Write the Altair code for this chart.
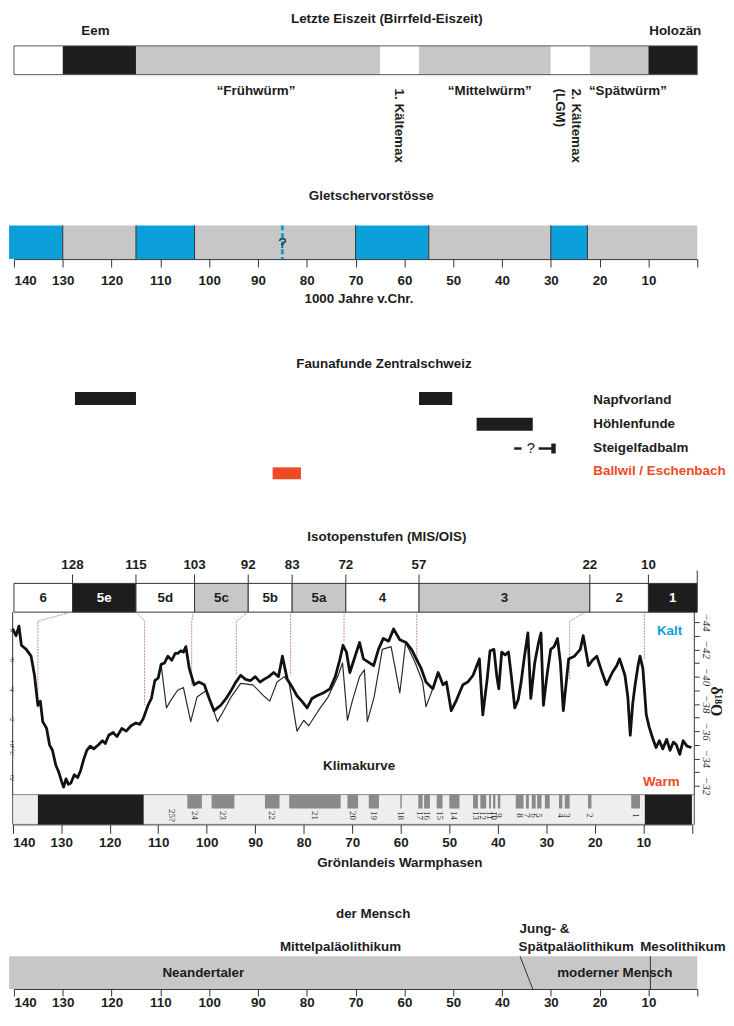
import altair as alt
import pandas as pd

# ---------------- Letzte Eiszeit (Birrfeld-Eiszeit) ----------------
eis_from = [140, 130, 115, 65, 57, 30, 22, 10]
eis_to = [130, 115, 65, 57, 30, 22, 10, 0]
eis_tone = ["hell", "dunkel", "grau", "hell", "grau", "hell", "grau", "dunkel"]
eis_top_names = ["Eem", "Holozän"]
eis_top_ka = [123.3, 4.5]
eis_phase_names = ["“Frühwürm”", "“Mittelwürm”", "“Spätwürm”"]
eis_phase_ka = [90.4, 42.5, 14.2]
kaelte_names = ["1. Kältemax", "2. Kältemax", "(LGM)"]
kaelte_ka = [61.2, 24.8, 28.2]

# ---------------- Gletschervorstösse ----------------
glet_from = [141, 130, 115, 103, 70, 55, 30, 22.5]
glet_to = [130, 115, 103, 70, 55, 30, 22.5, 0]
glet_advance = [True, False, True, False, True, False, True, False]
glet_unsure_ka = [85]

# ---------------- Faunafunde Zentralschweiz ----------------
fauna_sites = ["Napfvorland", "Höhlenfunde", "Steigelfadbalm", "Ballwil / Eschenbach"]
fauna_bar_site = ["Napfvorland", "Napfvorland", "Höhlenfunde", "Ballwil / Eschenbach"]
fauna_bar_from = [127.5, 57, 45.2, 87]
fauna_bar_to = [115, 50.2, 33.7, 81.2]
steigel_unsure = [37.5, 36.0]
steigel_q_ka = [34.1]
steigel_sure = [32.5, 29.6]
steigel_end = [29.9, 29.0]

# ---------------- Isotopenstufen (MIS/OIS) ----------------
mis_bounds = [140, 128, 115, 103, 92, 83, 72, 57, 22, 10, 0]
mis_names = ["6", "5e", "5d", "5c", "5b", "5a", "4", "3", "2", "1"]
mis_tone = ["hell", "dunkel", "hell", "grau", "hell", "grau", "hell", "grau", "hell", "dunkel"]

# Klimakurve (delta18O, thick record)
thick_ka = [140.0, 139.3, 138.7, 138.2, 137.2, 136.2, 135.5, 134.8, 134.3, 133.8, 133.0, 132.4, 131.8,
            131.1, 130.5, 129.9, 129.5, 129.0, 128.5, 128.0, 127.3, 126.6, 126.0, 125.3, 124.7, 124.0,
            123.3, 122.3, 121.5, 120.9, 120.2, 119.3, 118.5, 117.5, 116.6, 115.6, 114.6, 113.8, 113.1,
            112.1, 111.4, 110.7, 110.0, 109.4, 108.7, 108.0, 107.2, 106.5, 106.0, 105.3, 104.8, 104.3,
            103.6, 102.6, 101.6, 100.5, 99.5, 98.5, 97.1, 96.0, 95.1, 94.0, 93.0, 92.0, 91.0, 90.0, 89.0,
            88.2, 87.2, 86.2, 85.2, 84.4, 83.4, 82.5, 81.4, 80.4, 79.3, 78.3, 77.3, 76.0, 74.6, 73.5,
            72.6, 71.9, 71.2, 70.5, 69.5, 68.5, 67.7, 65.6, 64.6, 63.6, 62.5, 61.5, 60.2, 58.9, 57.8,
            56.8, 55.8, 54.8, 53.4, 52.3, 51.3, 50.6, 49.6, 48.5, 47.2, 46.2, 45.1, 43.8, 43.1, 42.2,
            41.6, 40.8, 40.2, 39.8, 39.2, 38.5, 37.8, 37.2, 36.5, 35.8, 35.2, 34.5, 33.8, 33.2, 32.4,
            31.6, 31.1, 30.6, 29.9, 29.1, 28.4, 27.7, 27.1, 26.5, 25.4, 24.2, 23.0, 22.4, 21.3, 20.5,
            19.6, 18.6, 17.6, 16.4, 15.5, 14.9, 13.8, 13.2, 12.7, 12.2, 11.7, 11.1, 10.7, 10.1, 9.4,
            8.8, 8.1, 7.4, 6.7, 6.0, 5.2, 4.5, 3.8, 3.2, 2.5, 1.8, 1.0, 0.1]
thick_d18o = [-43.5, -43.0, -43.7, -42.3, -42.0, -41.5, -40.1, -37.9, -38.2, -36.7, -36.2, -35.0, -34.6,
              -33.5, -33.0, -32.3, -31.9, -32.5, -32.1, -32.2, -32.8, -32.6, -33.1, -34.0, -34.6, -34.9,
              -34.7, -35.0, -35.3, -35.1, -35.7, -35.9, -35.6, -36.2, -36.0, -36.4, -36.6, -36.5, -36.9,
              -37.9, -38.4, -39.7, -39.9, -40.9, -41.0, -41.5, -41.2, -41.7, -41.7, -41.9, -41.8, -42.2,
              -40.6, -39.4, -39.6, -39.4, -38.4, -37.5, -37.9, -38.4, -38.9, -39.6, -40.1, -39.8, -39.7,
              -40.0, -39.6, -39.8, -40.0, -40.3, -40.0, -41.5, -39.8, -39.3, -38.6, -38.2, -37.7, -38.4,
              -38.6, -38.8, -39.1, -40.0, -41.2, -42.3, -41.8, -40.3, -41.4, -42.5, -41.3, -40.8, -42.0,
              -42.8, -42.6, -43.5, -42.7, -42.5, -42.0, -41.3, -40.6, -39.6, -39.1, -40.3, -39.4, -39.6,
              -37.5, -38.3, -39.4, -39.6, -40.1, -41.3, -37.2, -39.8, -41.9, -42.0, -40.0, -39.1, -41.8,
              -41.6, -41.8, -40.0, -37.7, -38.3, -39.6, -41.5, -43.2, -38.4, -41.0, -42.5, -43.2, -37.9,
              -40.0, -42.0, -42.2, -42.8, -41.0, -37.5, -41.3, -41.5, -42.0, -43.0, -40.8, -41.2, -41.5,
              -40.4, -39.4, -40.3, -40.8, -41.3, -40.1, -38.5, -35.7, -38.0, -39.4, -40.8, -41.5, -40.6,
              -37.2, -36.3, -35.5, -34.8, -35.3, -34.7, -35.4, -34.6, -35.2, -35.0, -34.3, -35.3, -34.9,
              -34.8]
# second (thin) record where it departs from the thick one
thin_ka = [109.4, 108.3, 107.5, 106.0, 104.8, 103.3, 102.0, 100.0, 97.8, 96.5, 95.0, 93.0, 90.5, 88.0,
           87.0, 85.5, 84.0, 83.0, 81.4, 80.0, 79.0, 77.0, 75.0, 73.0, 72.0, 71.0, 70.0, 68.5, 67.5,
           66.9, 65.5, 63.8, 62.0, 60.2, 59.0, 57.0, 55.5, 54.8, 53.0, 52.3]
thin_d18o = [-40.9, -37.7, -38.2, -39.0, -39.2, -36.7, -38.5, -39.0, -36.7, -37.5, -38.5, -39.5, -39.4,
             -38.5, -38.2, -39.6, -40.0, -39.5, -36.0, -36.8, -36.4, -37.5, -38.5, -40.0, -41.0, -36.8,
             -38.2, -40.0, -40.5, -36.7, -38.5, -42.0, -42.2, -38.8, -42.5, -41.0, -39.6, -37.8, -39.5,
             -40.3]
d18o_ticks = list(range(-44, -31))
temp_ticks = [-8, -6, -4, -2, 0, 2]

# links from MIS boundaries down to the curve
link_top_ka = [127.9, 114.6, 102.7, 91.5, 82.7, 71.7, 56.7, 21.9, 9.8]
link_knee_ka = [134.8, 112.8, 103.1, 93.9, 82.7, 71.7, 56.7, 25.2, 9.8]
link_foot_d18o = [-37.7, -37.9, -39.4, -40.1, -40.1, -42.5, -41.3, -39.8, -41.3]

# Grönlandeis Warmphasen
strip_cold_from = [134.8, 9.7]
strip_cold_to = [113.0, 0]
wp_names = ["24", "23", "22", "21", "20", "19", "18", "17", "16", "15", "14", "13", "12", "11", "10",
            "9", "8", "7", "6", "5", "", "4", "3", "2", "1"]
wp_from = [104.0, 99.0, 88.0, 83.0, 71.0, 66.6, 60.1, 56.4, 55.2, 52.6, 50.0, 45.1, 43.6, 41.8, 41.0,
           40.0, 36.3, 34.2, 33.0, 31.9, 30.3, 27.4, 26.2, 21.4, 12.5]
wp_to = [101.0, 94.3, 85.0, 72.4, 68.8, 64.5, 59.8, 55.5, 54.0, 51.4, 47.9, 44.1, 42.4, 41.4, 40.5,
         39.5, 34.7, 33.6, 32.2, 31.0, 29.3, 26.7, 25.2, 20.7, 10.7]
wp_unsure_name = ["25?"]
wp_unsure_ka = [107.2]

# ---------------- der Mensch ----------------
mensch_span = [141, 0]
jung_boundary_ka = [36.3, 33.7]
meso_boundary_ka = [9.6]
mensch_names = ["Neandertaler", "moderner Mensch"]
mensch_ka = [101.2, 16.9]

# ================= layout & style =================
H, W = 1006, 724
FONT = "Liberation Sans"
FS = 13.5
SERIF = "Liberation Serif"
INK = "#1d1d1d"
GREY = "#c7c7c7"
BLUE = "#0ba0d9"
RED = "#ee4a25"
TONES = {"hell": "#ffffff", "dunkel": INK, "grau": GREY}
KA_TICKS = list(range(140, -1, -10))

MAIN = alt.Scale(domain=[140, 0], range=[6, 695])
KLIMA = alt.Scale(domain=[140, 0], range=[4.7, 689.6])
LAY = alt.Scale(domain=[0, H], range=[0, H])
D_SCALE = alt.Scale(domain=[-44, -32], range=[615, 780])
T_SCALE = alt.Scale(domain=[-8, 2], range=[621, 771])

# rows of the "der Mensch" panel
MB_TOP, MB_BOT = 952, 985


def ka_axis(offset, tick, pad):
    return alt.Axis(orient="bottom", offset=offset, values=KA_TICKS,
                    labelExpr="datum.value == 0 ? '' : datum.label",
                    tickSize=tick, tickColor="#333", tickWidth=1,
                    domainColor="#333", domainWidth=1,
                    labelPadding=pad, labelFont=FONT, labelFontSize=FS,
                    labelFontWeight="bold", labelColor=INK,
                    labelFlush=True, labelOverlap=False, grid=False, title=None)


AX_GLET = ka_axis(249 - H, 8, 7)
AX_KLIMA = ka_axis(819 - H, 9, 2)
AX_MENSCH = ka_axis(MB_BOT - H, 7, 0)

AX_D = alt.Axis(orient="right", offset=692 - W, values=d18o_ticks,
                labelExpr="datum.value % 2 == 0 ? datum.label : ''",
                tickSize=5, tickColor="#333", labelAngle=90, labelAlign="center",
                labelBaseline="bottom", labelFont=SERIF, labelFontSize=11,
                labelFontStyle="italic", labelColor="#333", labelPadding=1,
                domain=False, grid=False, title=None)
AX_T = alt.Axis(orient="left", offset=-5.3, values=temp_ticks,
                labelExpr="datum.value == 0 ? '+0 °C' : (datum.value > 0 ? '+' + datum.label : datum.label)",
                tickSize=1, tickColor="#333", labelAngle=90, labelAlign="center",
                labelBaseline="top", labelFont=SERIF, labelFontSize=6.5,
                labelFontStyle="italic", labelColor="#333", labelPadding=-2.4,
                domain=False, grid=False, title=None)


def X(scale, axis, field="x"):
    return alt.X(f"{field}:Q", scale=scale, axis=axis)


def Y(field="y"):
    return alt.Y(f"{field}:Q", scale=LAY, axis=None)


def rects(df, scale, axis, **mark):
    enc = dict(x=X(scale, axis), x2="x2:Q", y=Y(), y2="y2:Q")
    if "c" in df:
        enc["color"] = alt.Color("c:N", scale=None)
    return alt.Chart(df).mark_rect(**mark).encode(**enc)


def rules(df, scale, axis, **mark):
    enc = dict(x=X(scale, axis), y=Y())
    if "x2" in df:
        enc["x2"] = "x2:Q"
    if "y2" in df:
        enc["y2"] = "y2:Q"
    return alt.Chart(df).mark_rule(**mark).encode(**enc)


def texts(df, scale, axis, size=FS, align="center", baseline="middle", angle=0,
          weight="bold", font=FONT, color=INK):
    enc = dict(x=X(scale, axis), y=Y(), text="t:N")
    mark = dict(fontSize=size, align=align, baseline=baseline, angle=angle,
                fontWeight=weight, font=font)
    if "c" in df:
        enc["color"] = alt.Color("c:N", scale=None)
    else:
        mark["color"] = color
    return alt.Chart(df).mark_text(**mark).encode(**enc)


def tdf(xs, y, ts, **extra):
    d = pd.DataFrame({"x": xs, "t": ts})
    d["y"] = y
    for k, v in extra.items():
        d[k] = v
    return d


# ---------------- group A1: upper panels (main scale, Gletscher axis) ----------------
A = AX_GLET
a1 = []
# Letzte Eiszeit
a1.append(texts(tdf([63.6], 7, ["Letzte Eiszeit (Birrfeld-Eiszeit)"]), MAIN, A))
a1.append(texts(tdf(eis_top_ka, 19, eis_top_names), MAIN, A))
eis_df = pd.DataFrame({"x": eis_from, "x2": eis_to, "c": [TONES[t] for t in eis_tone]})
eis_df["y"], eis_df["y2"] = 34, 63
a1.append(rects(eis_df, MAIN, A))
outline = pd.DataFrame({"x": [eis_from[0]], "x2": [eis_to[-1]], "y": [34], "y2": [63]})
a1.append(rects(outline, MAIN, A, fill="transparent", stroke="#555", strokeWidth=1))
a1.append(texts(tdf(eis_phase_ka, 80, eis_phase_names), MAIN, A))
a1.append(texts(tdf(kaelte_ka, 77, kaelte_names), MAIN, A, align="left", angle=90))

# Gletschervorstösse
a1.append(texts(tdf([66.8], 185, ["Gletschervorstösse"]), MAIN, A))
glet_df = pd.DataFrame({"x": glet_from, "x2": glet_to,
                        "c": [BLUE if g else GREY for g in glet_advance]})
glet_df["y"], glet_df["y2"] = 215, 249
a1.append(rects(glet_df, MAIN, A))
sep = pd.DataFrame({"x": glet_to[:-1]})
sep["y"], sep["y2"] = 215, 249
a1.append(rules(sep, MAIN, A, color="#333", strokeWidth=1))
unsure = pd.DataFrame({"x": glet_unsure_ka})
unsure["y"], unsure["y2"] = 215, 249
a1.append(rules(unsure, MAIN, A, color=BLUE, strokeWidth=3, strokeDash=[5, 3]))
a1.append(texts(tdf(glet_unsure_ka, 233, ["?"]), MAIN, A, size=15, weight="normal"))
a1.append(texts(tdf([69.3], 289, ["1000 Jahre v.Chr."]), MAIN, A))

# Faunafunde
a1.append(texts(tdf([64.2], 355, ["Faunafunde Zentralschweiz"]), MAIN, A))
site_row = {"Napfvorland": (383, 396), "Höhlenfunde": (409, 422), "Ballwil / Eschenbach": (459, 471)}
fauna_df = pd.DataFrame({"x": fauna_bar_from, "x2": fauna_bar_to,
                         "y": [site_row[s][0] for s in fauna_bar_site],
                         "y2": [site_row[s][1] for s in fauna_bar_site],
                         "c": [RED if s.startswith("Ballwil") else INK for s in fauna_bar_site]})
a1.append(rects(fauna_df, MAIN, A))
a1.append(texts(tdf([21.3] * 4, [391, 415, 440, 463], fauna_sites,
                    c=[INK, INK, INK, RED]), MAIN, A, align="left"))
st1 = pd.DataFrame({"x": [steigel_unsure[0]], "x2": [steigel_unsure[1]], "y": [440]})
a1.append(rules(st1, MAIN, A, color=INK, strokeWidth=2.5))
st2 = pd.DataFrame({"x": [steigel_sure[0]], "x2": [steigel_sure[1]], "y": [440]})
a1.append(rules(st2, MAIN, A, color=INK, strokeWidth=2.5))
a1.append(texts(tdf(steigel_q_ka, 440, ["?"]), MAIN, A, size=15, weight="normal"))
st3 = pd.DataFrame({"x": [steigel_end[0]], "x2": [steigel_end[1]], "y": [435], "y2": [445]})
a1.append(rects(st3, MAIN, A, color=INK))

# Isotopenstufen boxes
a1.append(texts(tdf([63.6], 529, ["Isotopenstufen (MIS/OIS)"]), MAIN, A))
a1.append(texts(tdf(mis_bounds[1:-1], 557, [str(b) for b in mis_bounds[1:-1]]), MAIN, A))
mt = pd.DataFrame({"x": mis_bounds[1:], "y": [567] * 9 + [563], "y2": 576})
a1.append(rules(mt, MAIN, A, color="#333", strokeWidth=1))
mis_df = pd.DataFrame({"x": mis_bounds[:-1], "x2": mis_bounds[1:],
                       "c": [TONES[t] for t in mis_tone]})
mis_df["y"], mis_df["y2"] = 576, 605
a1.append(rects(mis_df, MAIN, A, stroke="#333", strokeWidth=1))
mis_lab = pd.DataFrame({"x": [(a + b) / 2 for a, b in zip(mis_bounds[:-1], mis_bounds[1:])],
                        "t": mis_names,
                        "c": ["#ffffff" if t == "dunkel" else INK for t in mis_tone]})
mis_lab["y"] = 590.5
a1.append(texts(mis_lab, MAIN, A))
A1 = alt.layer(*a1)

# ---------------- group A2: der Mensch (main scale, bottom axis) ----------------
M = AX_MENSCH
a2 = []
a2.append(texts(tdf([66.4], 909, ["der Mensch"]), MAIN, M))
a2.append(texts(tdf([73.1], 943, ["Mittelpaläolithikum"]), MAIN, M))
a2.append(texts(tdf([36.4, 36.6, 11.7], [925, 943, 943],
                    ["Jung- &", "Spätpaläolithikum", "Mesolithikum"]), MAIN, M, align="left"))
mb = pd.DataFrame({"x": [mensch_span[0]], "x2": [mensch_span[1]], "y": [MB_TOP], "y2": [MB_BOT]})
a2.append(rects(mb, MAIN, M, color=GREY))
diag = pd.DataFrame({"x": jung_boundary_ka, "y": [MB_TOP, MB_BOT], "i": [0, 1]})
a2.append(alt.Chart(diag).mark_line(color="#333", strokeWidth=1).encode(
    x=X(MAIN, M), y=Y(), order="i:Q"))
meso = pd.DataFrame({"x": meso_boundary_ka, "y": [MB_TOP], "y2": [MB_BOT]})
a2.append(rules(meso, MAIN, M, color="#333", strokeWidth=1))
a2.append(texts(tdf(mensch_ka, (MB_TOP + MB_BOT) / 2, mensch_names), MAIN, M))
A2 = alt.layer(*a2)

# ---------------- group B1: Klimakurve (delta18O scale) ----------------
cx = alt.X("ka:Q", scale=KLIMA, axis=None)
cy = alt.Y("d:Q", scale=D_SCALE, axis=AX_D)
link_rows = []
for i, (t, k, f) in enumerate(zip(link_top_ka, link_knee_ka, link_foot_d18o)):
    link_rows += [{"id": i, "o": 0, "ka": t, "d": -44.73},
                  {"id": i, "o": 1, "ka": k, "d": -44.07},
                  {"id": i, "o": 2, "ka": k, "d": f}]
links = alt.Chart(pd.DataFrame(link_rows)).mark_line(
    color="#c27f86", strokeWidth=0.9, strokeDash=[2, 1]).encode(
    x=cx, y=cy, detail="id:N", order="o:Q")
thick = alt.Chart(pd.DataFrame({"ka": thick_ka, "d": thick_d18o})).mark_line(
    color="#111111", strokeWidth=2.8, strokeJoin="round").encode(x=cx, y=cy)
thin = alt.Chart(pd.DataFrame({"ka": thin_ka, "d": thin_d18o})).mark_line(
    color="#2a2a2a", strokeWidth=1.2, strokeJoin="round").encode(x=cx, y=cy)
B1 = alt.layer(links, thin, thick)

# ---------------- group B2: Warmphasen strip & labels (Klima scale) ----------------
K = AX_KLIMA
b2 = []
frame = pd.DataFrame({"x": [140, -0.5], "y": [605, 605], "y2": [819, 819]})
b2.append(rules(frame, KLIMA, K, color="#333", strokeWidth=1))
bg = pd.DataFrame({"x": [140], "x2": [-0.5], "y": [789], "y2": [819]})
b2.append(rects(bg, KLIMA, K, color="#eeeeee", stroke="#666", strokeWidth=0.8))
cold = pd.DataFrame({"x": strip_cold_from, "x2": strip_cold_to, "y": 789, "y2": 819})
b2.append(rects(cold, KLIMA, K, color=INK))
wp = pd.DataFrame({"x": wp_from, "x2": wp_to, "y": 789, "y2": 803})
b2.append(rects(wp, KLIMA, K, color="#8a8a8a"))
wp_lab = tdf([(a + b) / 2 for a, b in zip(wp_from, wp_to)] + wp_unsure_ka, 810,
             wp_names + wp_unsure_name)
wp_lab = wp_lab[wp_lab["t"] != ""]
b2.append(texts(wp_lab, KLIMA, K, size=9, angle=90, weight="normal", font=SERIF, color="#333"))
b2.append(texts(tdf([68.6], 760, ["Klimakurve"]), KLIMA, K))
b2.append(texts(tdf([4.6], 624, ["Kalt"]), KLIMA, K, color=BLUE))
b2.append(texts(tdf([6.3], 776, ["Warm"]), KLIMA, K, color=RED))
b2.append(texts(tdf([-5.0], 695, ["δ¹⁸O"]), KLIMA, K, size=16, angle=90, font=SERIF))
b2.append(texts(tdf([60.2], 858, ["Grönlandeis Warmphasen"]), KLIMA, K))
B2 = alt.layer(*b2)

# ---------------- group C: temperature axis ----------------
C = alt.Chart(pd.DataFrame({"v": temp_ticks})).mark_point(opacity=0).encode(
    y=alt.Y("v:Q", scale=T_SCALE, axis=AX_T), x=alt.value(5))

chart = (
    alt.layer(A1, A2, B1, B2, C)
    .resolve_scale(x="independent", y="independent")
    .resolve_axis(x="independent", y="independent")
    .properties(width=W, height=H, padding=0,
                autosize=alt.AutoSizeParams(type="none"), background="white")
    .configure_view(stroke=None)
)

chart.save("out.html", embed_options={"renderer": "svg", "actions": False})
